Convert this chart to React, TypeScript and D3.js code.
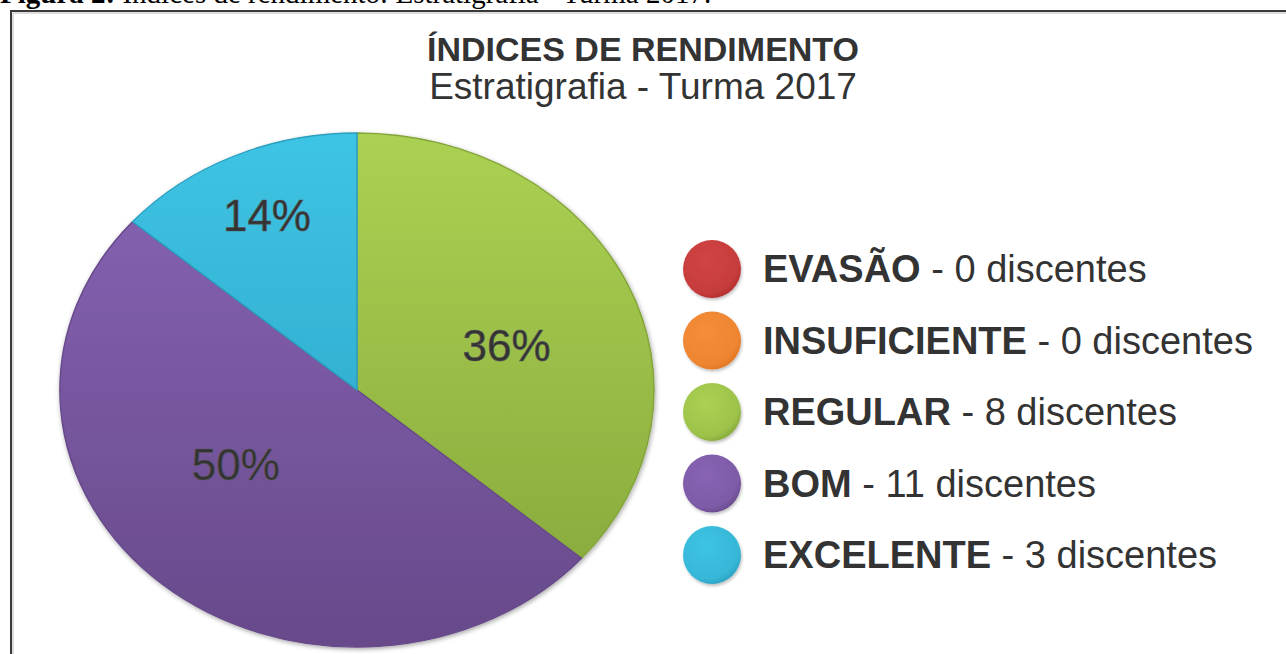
import React from "react";
import * as d3 from "d3";

const categories = ["EVASÃO", "INSUFICIENTE", "REGULAR", "BOM", "EXCELENTE"];
const counts = [0, 0, 8, 11, 3];
const unitLabel = "discentes";
const title = "ÍNDICES DE RENDIMENTO";
const subtitle = "Estratigrafia - Turma 2017";
const captionBold = "Figura 2:";
const captionText = " Índices de rendimento: Estratigrafia - Turma 2017.";

const topColors = ["#d24444", "#f58d3a", "#abd152", "#8964b6", "#3ec4e4"];
const bottomColors = ["#b02c2c", "#e07520", "#84a53a", "#674a8a", "#2a9fc0"];

// label placement per slice: [radius fraction, angle nudge in degrees]
const labelPlacement: Record<string, [number, number]> = {
  REGULAR: [0.533, 5.5],
  BOM: [0.5, 13.8],
  EXCELENTE: [0.747, 0.6],
};

export default function App() {
  const W = 1286;
  const H = 654;
  const cx = 357;
  const cy = 390;
  const rx = 297;
  const ry = 257;

  const data = categories.map((c, i) => ({ cat: c, count: counts[i], i }));
  const total = d3.sum(counts);
  const pie = d3
    .pie<any>()
    .sort(null)
    .value((d: any) => d.count)
    .startAngle(0)
    .endAngle(2 * Math.PI);
  const arcs = pie(data);
  const arc = d3.arc<any>().innerRadius(0).outerRadius(rx);

  const legendY = d3
    .scalePoint<string>()
    .domain(categories)
    .range([269, 555]);

  return (
    <svg
      width={W}
      height={H}
      style={{ position: "absolute", left: 0, top: 0, background: "#fff" }}
      fontFamily="'Liberation Sans', Arial, sans-serif"
    >
      <defs>
        {categories.map((c, i) => (
          <linearGradient
            key={c}
            id={`g${i}`}
            gradientUnits="userSpaceOnUse"
            x1={0}
            y1={-rx}
            x2={0}
            y2={rx}
          >
            <stop offset="0%" stopColor={topColors[i]} />
            <stop offset="100%" stopColor={bottomColors[i]} />
          </linearGradient>
        ))}
        {categories.map((c, i) => (
          <radialGradient key={c} id={`lg${i}`} cx="40%" cy="35%" r="70%">
            <stop offset="0%" stopColor={topColors[i]} />
            <stop offset="80%" stopColor={d3.interpolateRgb(topColors[i], bottomColors[i])(0.35)} />
            <stop offset="100%" stopColor={bottomColors[i]} />
          </radialGradient>
        ))}
        <filter id="shadow" x="-10%" y="-10%" width="120%" height="120%">
          <feDropShadow dx="1" dy="2" stdDeviation="2.5" floodColor="#000" floodOpacity="0.35" />
        </filter>
        <filter id="lshadow" x="-20%" y="-20%" width="140%" height="140%">
          <feDropShadow dx="1" dy="2" stdDeviation="1.5" floodColor="#000" floodOpacity="0.25" />
        </filter>
      </defs>

      {/* caption (cut at top, as in the reference) */}
      <text x={0} y={3} fontFamily="'Liberation Serif', 'Times New Roman', serif" fontSize={29} fill="#000">
        <tspan fontWeight="bold">{captionBold}</tspan>
        <tspan>{captionText}</tspan>
      </text>

      {/* frame */}
      <path d={`M11,${H + 5} L11,11 L${W + 5},11`} fill="none" stroke="#3a3a3a" strokeWidth={2} />
      <path d={`M13,${H + 5} L13,13 L${W + 5},13`} fill="none" stroke="#bbb" strokeWidth={1} />

      {/* titles */}
      <text x={643} y={61} textAnchor="middle" fontSize={34} fontWeight="bold" fill="#333">
        {title}
      </text>
      <text x={643} y={99} textAnchor="middle" fontSize={37} fill="#333">
        {subtitle}
      </text>

      {/* pie */}
      <g transform={`translate(${cx},${cy}) scale(1,${ry / rx})`} filter="url(#shadow)">
        {arcs
          .filter((a) => a.data.count > 0)
          .map((a) => (
            <path
              key={a.data.cat}
              d={arc(a) as string}
              fill={`url(#g${a.data.i})`}
              stroke={bottomColors[a.data.i]}
              strokeWidth={1.5}
              strokeLinejoin="round"
            />
          ))}
      </g>

      {/* percent labels */}
      {arcs
        .filter((a) => a.data.count > 0)
        .map((a) => {
          const [rf, nudge] = labelPlacement[a.data.cat] || [0.6, 0];
          const ang = (a.startAngle + a.endAngle) / 2 + (nudge * Math.PI) / 180;
          const x = cx + Math.sin(ang) * rx * rf;
          const y = cy - Math.cos(ang) * ry * rf;
          const pct = Math.round((a.data.count / total) * 100);
          return (
            <text
              key={a.data.cat}
              x={x}
              y={y + 16}
              textAnchor="middle"
              fontSize={44}
              fill="#333"
              stroke="#555"
              strokeWidth={0.6}
            >
              {pct}%
            </text>
          );
        })}

      {/* legend */}
      {categories.map((c, i) => {
        const y = legendY(c) as number;
        return (
          <g key={c}>
            <circle cx={712} cy={y} r={29} fill={`url(#lg${i})`} filter="url(#lshadow)" />
            <text x={763} y={y + 13} fontSize={38} fill="#333">
              <tspan fontWeight="bold">{c}</tspan>
              <tspan>{` - ${counts[i]} ${unitLabel}`}</tspan>
            </text>
          </g>
        );
      })}
    </svg>
  );
}
